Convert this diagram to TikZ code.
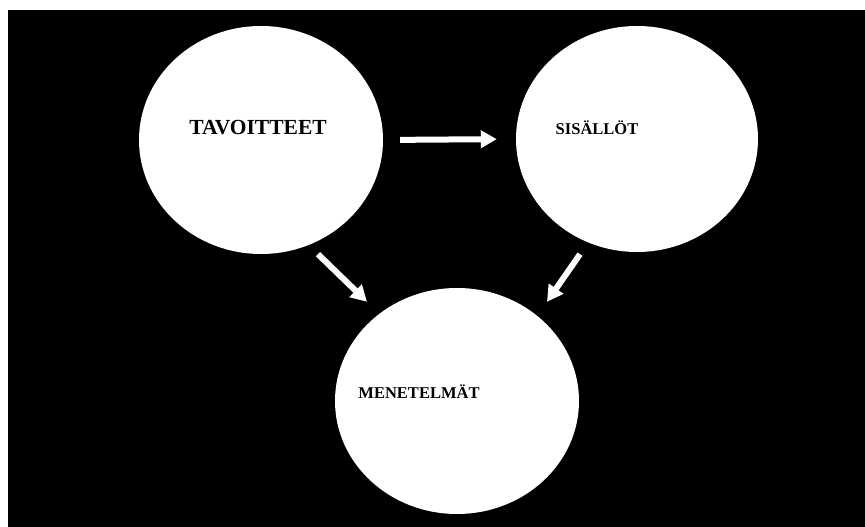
\documentclass[tikz,border=0pt]{standalone}
\usepackage{fontspec}
\setmainfont{Liberation Serif}
\usepackage{tikz}
\usetikzlibrary{shapes.geometric, arrows.meta, positioning}

\begin{document}
\begin{tikzpicture}[x=1pt, y=1pt,
  blob/.style={ellipse, fill=white, inner sep=0pt},
  lbl/.style={font=\fontsize{16.5}{18}\selectfont\bfseries, text=black, inner sep=0pt},
  arr/.style={draw=white, line width=6pt, -{Triangle[length=16pt, width=17pt]}}
  ]
  \useasboundingbox (0,0) rectangle (865,527);
  \fill[white] (0,0) rectangle (865,527);
  \fill[black] (8,0) rectangle (865,517);

  % Circles
  \node[blob, minimum width=244pt, minimum height=228pt] (tavoitteet) at (261, 387) {};
  \node[blob, minimum width=242pt, minimum height=226pt] (sisallot) at (637, 388) {};
  \node[blob, minimum width=244pt, minimum height=226pt] (menetelmat) at (457, 126) {};

  % Texts
  \node[lbl, font=\fontsize{21.5}{24}\selectfont\bfseries] (tavoitteet-txt) at ([xshift=-3pt, yshift=12pt]tavoitteet.center) {TAVOITTEET};
  \node[lbl] (sisallot-txt) at ([xshift=-40pt, yshift=11pt]sisallot.center) {SISÄLLÖT};
  \node[lbl] (menetelmat-txt) at ([xshift=-38pt, yshift=9pt]menetelmat.center) {MENETELMÄT};

  % Arrows
  \draw[arr, shorten <=17pt, shorten >=19pt] (tavoitteet.east) -- (sisallot.west);
  \draw[arr] ([xshift=57pt]tavoitteet.south) -- ([xshift=-90pt, yshift=-14pt]menetelmat.north);
  \draw[arr] ([xshift=-57pt, yshift=-2pt]sisallot.south) -- ([xshift=90pt, yshift=-14pt]menetelmat.north);
\end{tikzpicture}
\end{document}
